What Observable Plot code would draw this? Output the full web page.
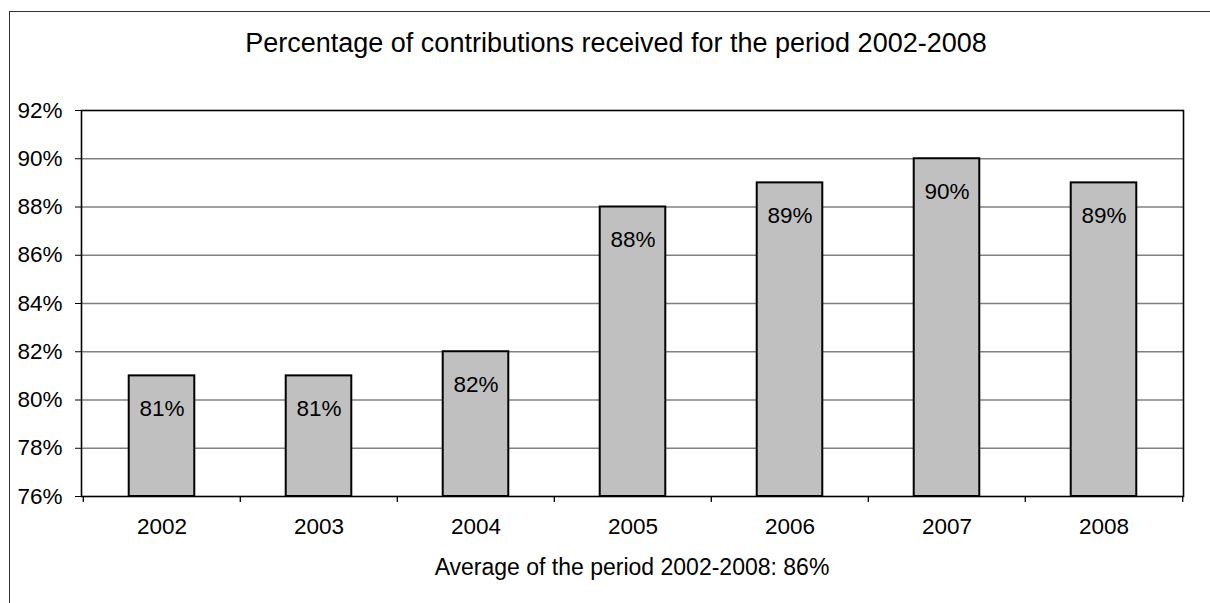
<!DOCTYPE html>
<html><head><meta charset="utf-8">
<script src="https://cdn.jsdelivr.net/npm/d3@7"></script>
<script src="https://cdn.jsdelivr.net/npm/@observablehq/plot@0.6"></script>
<style>
body{margin:0;background:#fff;font-family:"Liberation Sans",Arial,sans-serif;color:#000;}
#wrap{position:relative;width:1210px;height:603px;overflow:hidden;background:#fff;}
#border{position:absolute;left:9px;top:11px;width:1400px;height:800px;border:1.5px solid #333;box-sizing:border-box;}
#title{position:absolute;left:616px;top:28px;transform:translateX(-50%);white-space:nowrap;font-size:27px;line-height:31px;}
#caption{position:absolute;left:632px;top:554px;transform:translateX(-50%);white-space:nowrap;font-size:23px;line-height:27px;}
#chart{position:absolute;left:0;top:0;}
</style>
</head><body>
<div id="wrap">
  <div id="border"></div>
  <div id="chart"></div>
  <div id="title"></div>
  <div id="caption"></div>
</div>
<script>
const titleText = "Percentage of contributions received for the period 2002-2008";
const captionText = "Average of the period 2002-2008: 86%";
const years = ["2002", "2003", "2004", "2005", "2006", "2007", "2008"];
const values = [0.81, 0.81, 0.82, 0.88, 0.89, 0.90, 0.89];
const yTicks = [0.76, 0.78, 0.80, 0.82, 0.84, 0.86, 0.88, 0.90, 0.92];
const gridTicks = [0.78, 0.80, 0.82, 0.84, 0.86, 0.88, 0.90];
const yDomain = [0.76, 0.92];

document.getElementById("title").textContent = titleText;
document.getElementById("caption").textContent = captionText;

const data = years.map((year, i) => ({year, value: values[i]}));

const W = 1210, H = 603, ML = 81, MR = 27, MT = 110, MB = 107;
const step = (W - ML - MR) / years.length;
const barInset = (step - 66) / 2;
const fmt = d3.format(".0%");
const FS = 22.5;

const chart = Plot.plot({
  width: W,
  height: H,
  marginLeft: ML,
  marginRight: MR,
  marginTop: MT,
  marginBottom: MB,
  style: {fontFamily: "'Liberation Sans', Arial, sans-serif", fontSize: FS + "px", background: "transparent", color: "#000"},
  x: {domain: years, padding: 0, label: null},
  y: {domain: yDomain, label: null},
  marks: [
    Plot.ruleY(gridTicks, {stroke: "#808080", strokeWidth: 1.3}),
    Plot.barY(data, {x: "year", y1: yDomain[0], y2: "value", fill: "#c0c0c0", stroke: "#000", strokeWidth: 2, insetLeft: barInset, insetRight: barInset}),
    Plot.text(data, {x: "year", y: "value", text: d => fmt(d.value), dy: 33, fontSize: FS, fill: "#000"}),
    Plot.axisY({ticks: yTicks, tickSize: 6, tickPadding: 13, tickFormat: fmt, fontSize: FS, label: null}),
    Plot.axisX({tickSize: 0, tickPadding: 22, fontSize: FS, label: null}),
    Plot.ruleX(years, {x: d => d, y1: yDomain[0], y2: yDomain[0], dx: -step / 2, insetBottom: -6, stroke: "#000", strokeWidth: 1.3}),
    Plot.ruleX(years.slice(-1), {x: d => d, y1: yDomain[0], y2: yDomain[0], dx: step / 2, insetBottom: -6, stroke: "#000", strokeWidth: 1.3}),
    Plot.frame({stroke: "#000", strokeWidth: 1.6})
  ]
});
document.getElementById("chart").appendChild(chart);
</script>
</body></html>
